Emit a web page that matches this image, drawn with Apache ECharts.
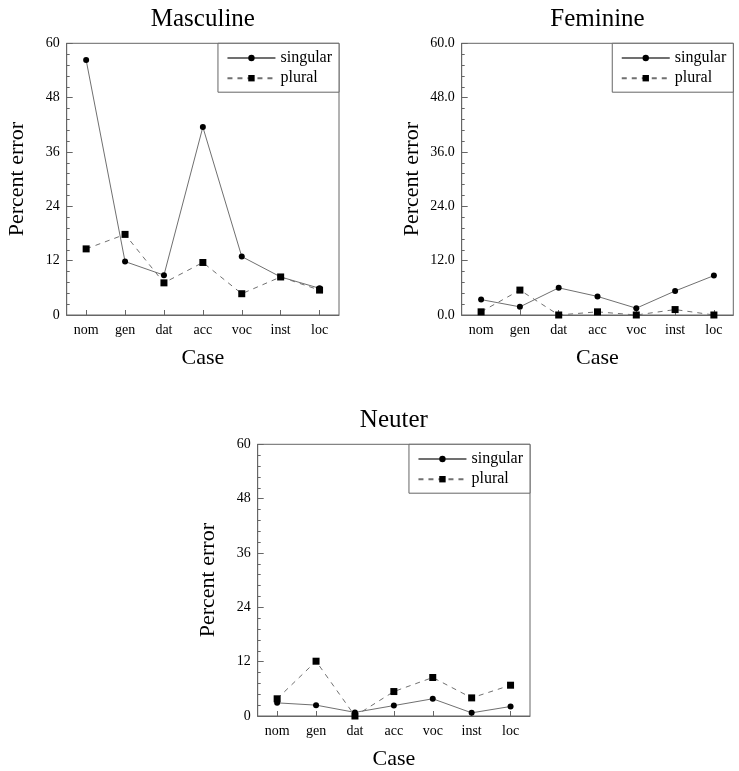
<!DOCTYPE html>
<html>
<head>
<meta charset="utf-8">
<script src="https://cdn.jsdelivr.net/npm/echarts@6/dist/echarts.min.js"></script>
<style>
html,body{margin:0;padding:0;background:#fff;}
#chart{width:739px;height:771px;}
</style>
</head>
<body>
<div id="chart"></div>
<script>
const categories = ['nom','gen','dat','acc','voc','inst','loc'];
const titles = ['Masculine','Feminine','Neuter'];
const seriesNames = ['singular','plural'];
const yTicks = [0,12,24,36,48,60];

const mascSingular = [56.3, 11.8, 8.8, 41.5, 12.9, 8.4, 5.9];
const mascPlural   = [14.6, 17.8, 7.1, 11.6, 4.7, 8.4, 5.5];
const femSingular  = [3.4, 1.8, 6.0, 4.1, 1.5, 5.3, 8.7];
const femPlural    = [0.7, 5.5, 0.0, 0.7, 0.0, 1.2, 0.0];
const neutSingular = [2.9, 2.4, 0.8, 2.3, 3.8, 0.7, 2.1];
const neutPlural   = [3.8, 12.1, 0.0, 5.4, 8.5, 4.0, 6.8];

const panelData = [
  [mascSingular, mascPlural],
  [femSingular, femPlural],
  [neutSingular, neutPlural]
];

const FONT = '"Liberation Serif", "DejaVu Serif", serif';
const LINE = '#707070';
const BORDER = '#666';

const panels = [
  {left: 66.7, width: 272.3, top: 43.3, height: 271.7, dec: false},
  {left: 461.7, width: 271.6, top: 43.3, height: 271.7, dec: true},
  {left: 257.7, width: 272.3, top: 444.3, height: 271.7, dec: false}
];

const grid = [], xAxis = [], yAxis = [], series = [], title = [], legend = [];
panels.forEach((p, i) => {
  grid.push({left: p.left, top: p.top, width: p.width, height: p.height,
    show: true, borderColor: BORDER, borderWidth: 1, backgroundColor: 'transparent'});
  title.push({text: titles[i], left: p.left + p.width / 2, top: p.top - 36, textAlign: 'center',
    padding: 0,
    textStyle: {fontFamily: FONT, fontSize: 25, fontWeight: 'normal', color: '#000'}});
  xAxis.push({type: 'category', gridIndex: i, data: categories, boundaryGap: true,
    name: 'Case', nameLocation: 'middle', nameGap: 32,
    nameTextStyle: {fontFamily: FONT, fontSize: 22, color: '#000'},
    axisLine: {lineStyle: {color: BORDER, width: 1}},
    axisTick: {show: true, inside: true, alignWithLabel: true, length: 5, lineStyle: {color: BORDER}},
    axisLabel: {fontFamily: FONT, fontSize: 14, color: '#000', margin: 8, interval: 0},
    splitLine: {show: false}});
  yAxis.push({type: 'value', gridIndex: i, min: yTicks[0], max: yTicks[yTicks.length - 1], interval: 12,
    name: 'Percent error', nameLocation: 'middle', nameGap: 38, nameRotate: 90,
    nameTextStyle: {fontFamily: FONT, fontSize: 22, color: '#000'},
    axisLine: {show: true, lineStyle: {color: BORDER, width: 1}},
    axisTick: {show: true, inside: true, length: 6, lineStyle: {color: BORDER}},
    minorTick: {show: true, splitNumber: 5, length: 3, lineStyle: {color: BORDER}},
    axisLabel: {fontFamily: FONT, fontSize: 14, color: '#000', margin: 7,
      formatter: p.dec ? (v => v.toFixed(1)) : (v => String(v))},
    splitLine: {show: false}, minorSplitLine: {show: false}});
  legend.push({data: seriesNames, orient: 'vertical',
    right: 739 - (p.left + p.width), top: p.top,
    backgroundColor: '#fff', borderColor: BORDER, borderWidth: 1,
    padding: [6.7, 7, 6, 8.5], itemGap: 4.2, itemWidth: 48, itemHeight: 8,
    textStyle: {fontFamily: FONT, fontSize: 16, color: '#000'},
    selectedMode: false});
  series.push({name: seriesNames[0], type: 'line', xAxisIndex: i, yAxisIndex: i,
    data: panelData[i][0], symbol: 'circle', symbolSize: 6,
    itemStyle: {color: '#000'}, lineStyle: {color: LINE, width: 1, type: 'solid'},
    animation: false});
  series.push({name: seriesNames[1], type: 'line', xAxisIndex: i, yAxisIndex: i,
    data: panelData[i][1], symbol: 'rect', symbolSize: 7,
    itemStyle: {color: '#000'}, lineStyle: {color: LINE, width: 1, type: [5, 5]},
    animation: false});
});

const chart = echarts.init(document.getElementById('chart'));
chart.setOption({backgroundColor: '#fff', animation: false, title, legend, grid, xAxis, yAxis, series});
</script>
</body>
</html>
